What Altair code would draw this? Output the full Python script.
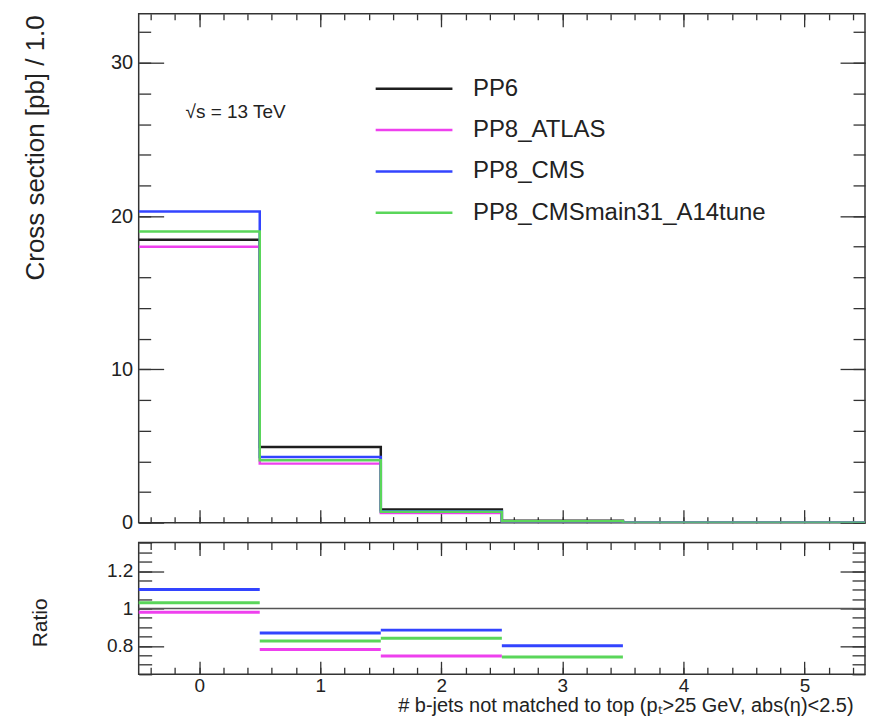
import altair as alt
import pandas as pd

# ---------------- data ----------------
series = ["PP6", "PP8_ATLAS", "PP8_CMS", "PP8_CMSmain31_A14tune"]
colors = ["#1e1e1e", "#ee40ee", "#3344ff", "#5ad65a"]
bin_edges = [-0.5, 0.5, 1.5, 2.5, 3.5, 4.5, 5.5]
xsec_pp6 = [18.46, 4.93, 0.85, 0.12, 0.0, 0.0]
xsec_atlas = [18.0, 3.85, 0.63, 0.07, 0.0, 0.0]
xsec_cms = [20.3, 4.28, 0.75, 0.096, 0.0, 0.0]
xsec_a14 = [19.0, 4.07, 0.715, 0.089, 0.0, 0.0]

ratio_series = ["PP8_ATLAS", "PP8_CMS", "PP8_CMSmain31_A14tune"]
ratio_atlas = [0.98, 0.781, 0.746, None]
ratio_cms = [1.101, 0.868, 0.884, 0.80]
ratio_a14 = [1.03, 0.826, 0.841, 0.74]
ratio_ref = [1.0]

x_major = [0, 1, 2, 3, 4, 5]
x_minor = [round(-0.4 + 0.2 * i, 2) for i in range(30)]
y_major = [0, 10, 20, 30]
y_minor = list(range(0, 34, 2))
r_major = [0.8, 1.0, 1.2]
r_minor = [round(0.65 + 0.05 * i, 2) for i in range(15)]

energy_note = "√s = 13 TeV"
x_title = "# b-jets not matched to top (pₜ>25 GeV, abs(η)<2.5)"
FONT = "Liberation Sans"
TXT = "#222222"

# ---------------- tables ----------------
rows = []
for s, vals in zip(series, [xsec_pp6, xsec_atlas, xsec_cms, xsec_a14]):
    for i, e in enumerate(bin_edges):
        rows.append({"series": s, "x": e, "y": vals[min(i, len(vals) - 1)]})
step_df = pd.DataFrame(rows)

rrows = []
for s, vals in zip(ratio_series, [ratio_atlas, ratio_cms, ratio_a14]):
    for i, v in enumerate(vals):
        if v is not None:
            rrows.append({"series": s, "lo": bin_edges[i], "hi": bin_edges[i + 1], "r": v})
ratio_df = pd.DataFrame(rrows)
ref_df = pd.DataFrame({"r": ratio_ref})

# ---------------- scales ----------------
xs = alt.Scale(domain=[-0.5, 5.5], nice=False, zero=False)
ys_up = alt.Scale(domain=[0, 33.2], nice=False, zero=False)
ys_lo = alt.Scale(domain=[0.648, 1.352], nice=False, zero=False)
cscale = alt.Scale(domain=series, range=colors)


def ax(orient, values, size, labels=False, extent=0.01, **kw):
    opts = dict(orient=orient, values=values, tickSize=size, offset=-size,
                labels=labels, domain=False, grid=False, ticks=True,
                tickColor="#333333", tickWidth=1.3,
                minExtent=extent, maxExtent=extent)
    if "title" not in kw:
        opts["title"] = None
    opts.update(kw)
    return alt.Axis(**opts)


W = 728
H_UP = 510
H_LO = 132

# ---------------- upper panel ----------------
lines = alt.Chart(step_df).mark_line(interpolate="step-after", strokeWidth=2.5, clip=True).encode(
    x=alt.X("x:Q", scale=xs, axis=ax("bottom", x_major, 13)),
    y=alt.Y("y:Q", scale=ys_up, axis=ax(
        "left", y_major, 25, labels=True, extent=140, labelFontSize=20, labelFont=FONT,
        labelColor=TXT, labelPadding=6, title="Cross section [pb] / 1.0", titleFont=FONT,
        titleFontSize=26, titleFontWeight="normal", titleColor=TXT, titleAngle=-90,
        titleAlign="right", titleBaseline="middle", titleX=-128, titleY=1)),
    color=alt.Color("series:N", scale=cscale, sort=series, legend=alt.Legend(
        title=None, orient="none", legendX=264, legendY=63, symbolType="M-4,0H4",
        symbolSize=370, symbolStrokeWidth=2.5, labelFontSize=24, labelFont=FONT,
        labelColor=TXT, labelOffset=47, labelLimit=500, rowPadding=17.5, padding=0)),
)


def ghost(xaxis, yaxis, yscale, field="y:Q", df=step_df, xfield="x:Q"):
    return alt.Chart(df).mark_line(opacity=0).encode(
        x=alt.X(xfield, scale=xs, axis=xaxis),
        y=alt.Y(field, scale=yscale, axis=yaxis),
        detail="series:N",
    )


up_minor = ghost(ax("bottom", x_minor, 6), ax("left", y_minor, 12), ys_up)
up_mirror = ghost(ax("top", x_major, 13), ax("right", y_major, 25), ys_up)
up_mirror_minor = ghost(ax("top", x_minor, 6), ax("right", y_minor, 12), ys_up)

note = alt.Chart(pd.DataFrame({"t": [energy_note]})).mark_text(
    align="left", baseline="middle", fontSize=19, font=FONT, color=TXT
).encode(x=alt.value(47), y=alt.value(98), text="t:N")

upper = alt.layer(lines, up_minor, up_mirror, up_mirror_minor, note).resolve_axis(
    x="independent", y="independent"
).properties(width=W, height=H_UP)

# ---------------- lower panel ----------------
ref = alt.Chart(ref_df).mark_rule(color="#555555", strokeWidth=1.5).encode(
    y=alt.Y("r:Q", scale=ys_lo, axis=None)
)

rules = alt.Chart(ratio_df).mark_rule(strokeWidth=3).encode(
    x=alt.X("lo:Q", scale=xs, axis=ax(
        "bottom", x_major, 13, labels=True, extent=54, labelFontSize=19, labelFont=FONT,
        labelColor=TXT, labelPadding=2, title=x_title, titleFont=FONT, titleFontSize=20,
        titleFontWeight="normal", titleColor=TXT, titleAlign="right", titleBaseline="middle",
        titleX=716, titleY=44)),
    x2="hi:Q",
    y=alt.Y("r:Q", scale=ys_lo, axis=ax(
        "left", r_major, 25, labels=True, extent=140, format="~g", labelFontSize=19,
        labelFont=FONT, labelColor=TXT, labelPadding=6, title="Ratio", titleFont=FONT,
        titleFontSize=21, titleFontWeight="normal", titleColor=TXT, titleAngle=-90,
        titleAlign="center", titleBaseline="middle", titleX=-123, titleY=80)),
    color=alt.Color("series:N", scale=cscale, legend=None),
)

lo_minor = ghost(ax("bottom", x_minor, 7), ax("left", r_minor, 13), ys_lo,
                 field="r:Q", df=ratio_df, xfield="lo:Q")
lo_mirror = ghost(ax("top", x_major, 13), ax("right", r_major, 25), ys_lo,
                  field="r:Q", df=ratio_df, xfield="lo:Q")
lo_mirror_minor = ghost(ax("top", x_minor, 7), ax("right", r_minor, 13), ys_lo,
                        field="r:Q", df=ratio_df, xfield="lo:Q")

lower = alt.layer(ref, rules, lo_minor, lo_mirror, lo_mirror_minor).resolve_axis(
    x="independent", y="independent"
).properties(width=W, height=H_LO)

chart = alt.vconcat(upper, lower, spacing=7).properties(
    padding={"left": 14, "top": 3, "right": 0, "bottom": 0}
).configure_view(stroke="#333333", strokeWidth=1.5)

chart.save("out.html", embed_options={"renderer": "svg", "actions": False})
